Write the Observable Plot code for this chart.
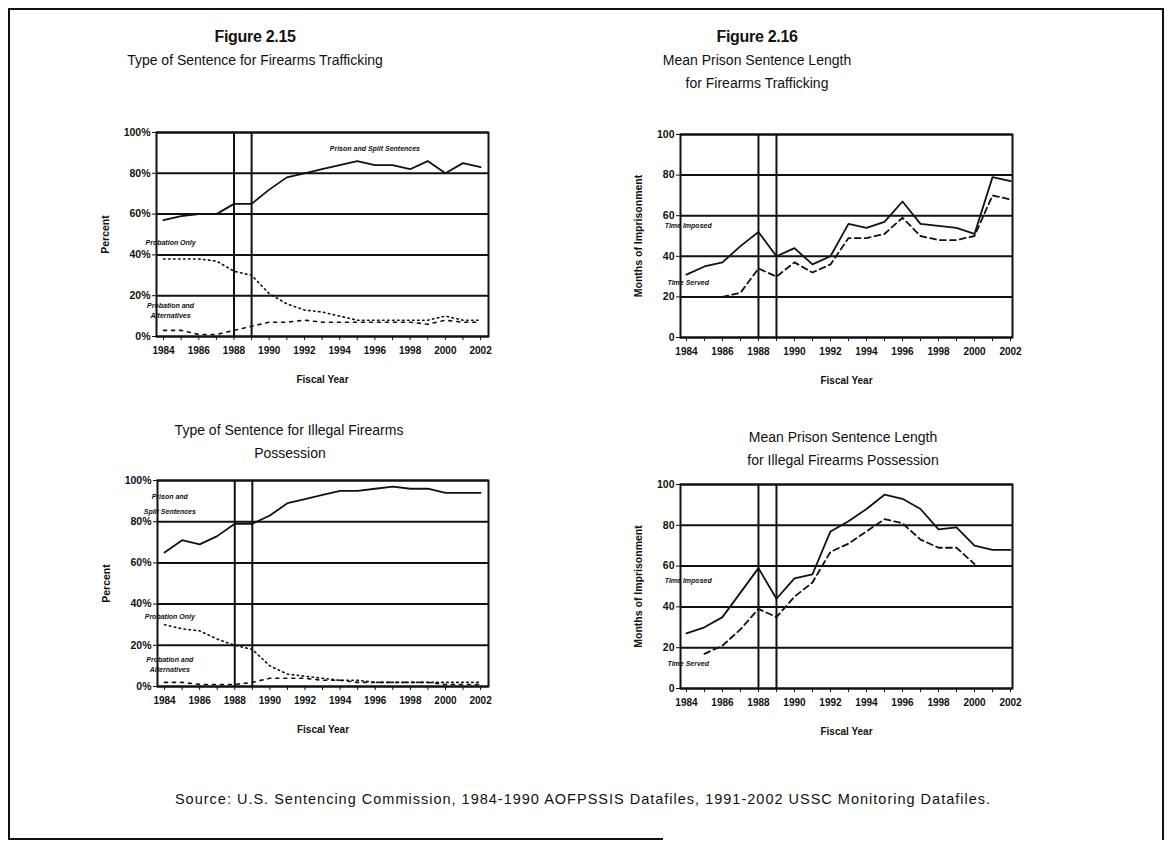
<!DOCTYPE html>
<html><head><meta charset="utf-8">
<script src="https://cdn.jsdelivr.net/npm/d3@7"></script>
<script src="https://cdn.jsdelivr.net/npm/@observablehq/plot@0.6"></script>
<style>
html,body{margin:0;padding:0;background:#fff;}
body{width:1171px;height:848px;position:relative;overflow:hidden;font-family:"Liberation Sans",Arial,sans-serif;color:#111;}
.t{position:absolute;white-space:nowrap;transform:translateX(-50%);line-height:1;}
.fig{font-weight:bold;font-size:16px;letter-spacing:-0.3px;}
.sub{font-size:14px;}
.src{font-size:14.5px;letter-spacing:1.0px;}
.panel{position:absolute;}
.frameL{position:absolute;left:8px;top:8px;width:1152px;height:830px;border-left:2px solid #111;border-top:2px solid #111;border-right:2px solid #111;}
.frameB{position:absolute;left:8px;top:838px;width:655px;height:0;border-top:2px solid #111;}
</style></head><body>
<div class="frameL"></div><div class="frameB"></div>
<div class="t fig" style="left:255px;top:29px;">Figure 2.15</div>
<div class="t sub" style="left:255px;top:53px;">Type of Sentence for Firearms Trafficking</div>
<div class="t fig" style="left:757px;top:29px;">Figure 2.16</div>
<div class="t sub" style="left:757px;top:53px;">Mean Prison Sentence Length</div>
<div class="t sub" style="left:757px;top:76px;">for Firearms Trafficking</div>
<div class="t sub" style="left:289px;top:423px;">Type of Sentence for Illegal Firearms</div>
<div class="t sub" style="left:290px;top:446px;">Possession</div>
<div class="t sub" style="left:843px;top:430px;">Mean Prison Sentence Length</div>
<div class="t sub" style="left:843px;top:453px;">for Illegal Firearms Possession</div>
<div class="t src" style="left:583px;top:792px;">Source: U.S. Sentencing Commission, 1984-1990 AOFPSSIS Datafiles, 1991-2002 USSC Monitoring Datafiles.</div>
<div id="p1" class="panel"></div>
<div id="p2" class="panel"></div>
<div id="p3" class="panel"></div>
<div id="p4" class="panel"></div>
<script>
// ---- data ----
const years = [1984,1985,1986,1987,1988,1989,1990,1991,1992,1993,1994,1995,1996,1997,1998,1999,2000,2001,2002];
const xLabelYears = [1984,1986,1988,1990,1992,1994,1996,1998,2000,2002];
const xTickLabels = ["1984","1986","1988","1990","1992","1994","1996","1998","2000","2002"];
const yTicks = [0,20,40,60,80,100];
const pctTickLabels = ["0%","20%","40%","60%","80%","100%"];
const monthTickLabels = ["0","20","40","60","80","100"];
const transitionYears = [1988,1989];

// Figure 2.15 top: Firearms trafficking, type of sentence (%)
const traffPrisonSplit = [57,59,60,60,65,65,72,78,80,82,84,86,84,84,82,86,80,85,83];
const traffProbOnly    = [38,38,38,37,32,30,21,16,13,12,10,8,8,8,8,8,10,8,8];
const traffProbAlt     = [3,3,1,1,3,5,7,7,8,7,7,7,7,7,7,6,8,7,7];
// Figure 2.16 top: Firearms trafficking, mean months
const traffImposed = [31,35,37,45,52,40,44,36,40,56,54,57,67,56,55,54,51,79,77];
const traffServed  = [null,null,20,22,34,30,37,32,36,49,49,51,59,50,48,48,50,70,68];
// Figure 2.15 bottom: Illegal possession, type of sentence (%)
const possPrisonSplit = [65,71,69,73,79,79,83,89,91,93,95,95,96,97,96,96,94,94,94];
const possProbOnly    = [30,28,27,23,20,18,10,6,5,4,3,3,2,2,2,2,2,2,2];
const possProbAlt     = [2,2,1,1,1,2,4,4,4,3,3,2,2,2,2,2,1,1,1];
// Figure 2.16 bottom: Illegal possession, mean months
const possImposed = [27,30,35,47,59,44,54,56,77,82,88,95,93,88,78,79,70,68,68];
const possServed  = [null,17,21,29,39,35,45,52,67,71,77,83,81,73,69,69,61,null,null];

// in-chart series labels (data coordinates)
const labels1 = [
  {x:1996, y:92, text:"Prison and Split Sentences", anchor:"middle"},
  {x:1984.4, y:46, text:"Probation Only", anchor:"start"},
  {x:1984.4, y:15, text:"Probation and", anchor:"start"},
  {x:1984.4, y:10, text:"Alternatives", anchor:"start"}
];
const labels2 = [
  {x:1984.1, y:55, text:"Time Imposed", anchor:"start"},
  {x:1984.1, y:27, text:"Time Served", anchor:"start"}
];
const labels3 = [
  {x:1984.3, y:92, text:"Prison and", anchor:"start"},
  {x:1984.3, y:85, text:"Split Sentences", anchor:"start"},
  {x:1984.3, y:34, text:"Probation Only", anchor:"start"},
  {x:1984.3, y:13, text:"Probation and", anchor:"start"},
  {x:1984.3, y:8, text:"Alternatives", anchor:"start"}
];
const labels4 = [
  {x:1984.1, y:53, text:"Time Imposed", anchor:"start"},
  {x:1984.1, y:12, text:"Time Served", anchor:"start"}
];

const FONT = '"Liberation Sans", Arial, sans-serif';
const INK = "#111";

function rows(arr){ return years.map((year,i)=>({year, value: arr[i]})); }

function makePanel(cfg){
  const xLab = new Map(xLabelYears.map((d,i)=>[d, xTickLabels[i]]));
  const yLab = new Map(yTicks.map((d,i)=>[d, cfg.yTickLabels[i]]));
  const lineMarks = cfg.series.map(s => Plot.line(rows(s.values), {
    x:"year", y:"value", stroke: INK, strokeWidth: s.width || 1.8,
    strokeDasharray: s.dash || null, curve: "linear"
  }));
  const marks = [
    Plot.ruleY(yTicks, {stroke: INK, strokeWidth: 2}),
    Plot.ruleX(transitionYears, {stroke: INK, strokeWidth: 2}),
    Plot.frame({stroke: INK, strokeWidth: 2}),
    Plot.axisX({ticks: years, tickSize: 4, tickFormat: () => "", label: null, stroke: INK}),
    Plot.axisX({ticks: xLabelYears, tickSize: 0, tickPadding: 10, tickFormat: d => xLab.get(d),
      fontSize: 10, fontWeight: "bold", fill: INK,
      label: "Fiscal Year", labelAnchor: "center", labelArrow: false, labelOffset: 46}),
    Plot.axisY({ticks: yTicks, tickSize: 4, tickPadding: 2, tickFormat: d => yLab.get(d),
      fontSize: 10.5, fontWeight: "bold", fill: INK, stroke: INK,
      label: cfg.yLabel, labelAnchor: "center", labelArrow: false, labelOffset: cfg.yLabelOffset}),
    ...lineMarks,
    Plot.text(cfg.labels, {x:"x", y:"y", text:"text", textAnchor: d => d.anchor,
      fontSize: 7, fontWeight: "bold", fontStyle: "italic", fill: INK})
  ];
  const el = Plot.plot({
    width: cfg.width, height: cfg.height,
    marginLeft: 70, marginRight: cfg.width - 70 - cfg.fw, marginTop: 10, marginBottom: cfg.height - 10 - cfg.fh,
    x: {type: "linear", domain: cfg.xDomain},
    y: {domain: [0, 100]},
    style: {fontFamily: FONT, background: "white", color: INK, overflow: "visible"},
    marks
  });
  const host = document.getElementById(cfg.id);
  host.style.left = cfg.left + "px";
  host.style.top = cfg.top + "px";
  host.appendChild(el);
}

makePanel({id:"p1", left: 86, top: 122, width: 412, height: 274, fw: 332, fh: 204,
  xDomain: [1983.6, 2002.45], yLabel: "Percent", yLabelOffset: 55, yTickLabels: pctTickLabels,
  series: [
    {values: traffPrisonSplit, width: 1.8},
    {values: traffProbOnly, width: 1.6, dash: "1.5,3.5"},
    {values: traffProbAlt, width: 1.6, dash: "3,5"}
  ], labels: labels1});
makePanel({id:"p2", left: 610, top: 124, width: 412, height: 273, fw: 332, fh: 203,
  xDomain: [1983.67, 2002.11], yLabel: "Months of Imprisonment", yLabelOffset: 46, yTickLabels: monthTickLabels,
  series: [
    {values: traffImposed, width: 1.8},
    {values: traffServed, width: 1.8, dash: "6,4"}
  ], labels: labels2});
makePanel({id:"p3", left: 87, top: 470, width: 411, height: 276, fw: 331, fh: 206,
  xDomain: [1983.6, 2002.45], yLabel: "Percent", yLabelOffset: 55, yTickLabels: pctTickLabels,
  series: [
    {values: possPrisonSplit, width: 1.8},
    {values: possProbOnly, width: 1.6, dash: "1.5,3.5"},
    {values: possProbAlt, width: 1.6, dash: "3,5"}
  ], labels: labels3});
makePanel({id:"p4", left: 610, top: 474, width: 412, height: 274, fw: 332, fh: 204,
  xDomain: [1983.67, 2002.11], yLabel: "Months of Imprisonment", yLabelOffset: 46, yTickLabels: monthTickLabels,
  series: [
    {values: possImposed, width: 1.8},
    {values: possServed, width: 1.8, dash: "6,4"}
  ], labels: labels4});
</script>
</body></html>
